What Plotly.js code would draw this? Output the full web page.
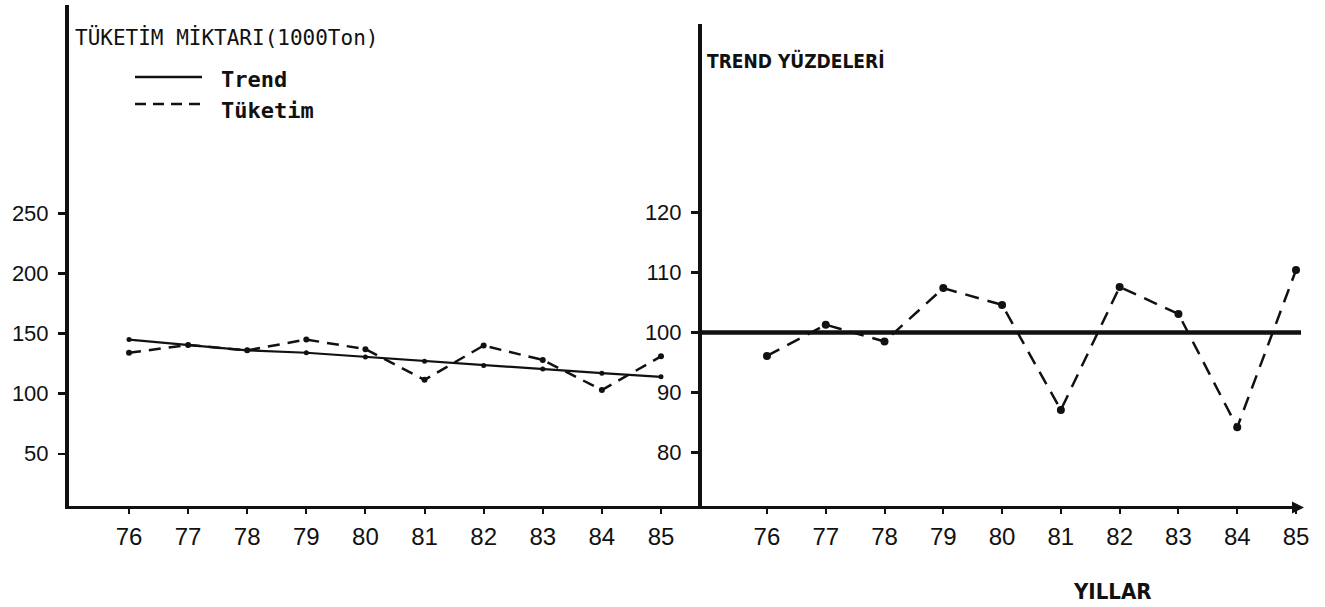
<!DOCTYPE html>
<html>
<head>
<meta charset="utf-8">
<script src="https://cdn.plot.ly/plotly-3.0.1.min.js"></script>
<style>
  html, body { margin: 0; padding: 0; background: #ffffff; }
  #chart { width: 1325px; height: 607px; }
</style>
</head>
<body>
<div id="chart"></div>
<script>
// ---- data ----
const years = [76, 77, 78, 79, 80, 81, 82, 83, 84, 85];
const yearLabels = ['76', '77', '78', '79', '80', '81', '82', '83', '84', '85'];
// left panel: consumption amount (1000 ton)
const trendAmount = [145, 140.5, 136, 134, 130.5, 127, 123.5, 120.5, 117, 114];
const consumption = [134, 140.5, 136, 145, 137, 111.5, 140, 128, 103, 131];
// right panel: trend percentages
const trendPercent = [96.1, 101.3, 98.5, 107.4, 104.6, 87.1, 107.6, 103.1, 84.2, 110.4];
const trendBase = 100;
const leftTicks = [50, 100, 150, 200, 250];
const rightTicks = [80, 90, 100, 110, 120];
const leftTitle = 'TÜKETİM MİKTARI(1000Ton)';
const rightTitle = 'TREND YÜZDELERİ';
const legendNames = ['Trend', 'Tüketim'];
const xTitle = 'YILLAR';

// ---- layout helpers ----
const W = 1325, H = 607;
const M = {l: 69, r: 24, t: 5, b: 101};
const PW = W - M.l - M.r, PH = H - M.t - M.b;
const px = x => (x - M.l) / PW;
const py = y => (H - M.b - y) / PH;
const split = px(702);

const mono = 'DejaVu Sans Mono, monospace';
const narrow = 'Liberation Sans Narrow, DejaVu Sans Condensed, Arial Narrow, sans-serif';
const tickFont = 'Liberation Sans, Arial, sans-serif';

const traces = [
  {x: years, y: trendAmount, xaxis: 'x', yaxis: 'y', mode: 'lines+markers', name: legendNames[0],
   line: {color: '#111', width: 2.2}, marker: {color: '#111', size: 5}, showlegend: false},
  {x: years, y: consumption, xaxis: 'x', yaxis: 'y', mode: 'lines+markers', name: legendNames[1],
   line: {color: '#111', width: 2.5, dash: '12px,8px'}, marker: {color: '#111', size: 6}, showlegend: false},
  {x: years, y: trendPercent, xaxis: 'x2', yaxis: 'y2', mode: 'lines+markers', name: 'Trend yüzdesi',
   line: {color: '#111', width: 2.5, dash: '14px,9px'}, marker: {color: '#111', size: 8}, showlegend: false}
];

const xCommon = {
  tickmode: 'array', tickvals: years, ticktext: yearLabels,
  showline: true, linecolor: '#111', linewidth: 3,
  ticks: 'outside', ticklen: 5, tickwidth: 2, tickcolor: '#111',
  ticklabelstandoff: 2,
  tickfont: {family: tickFont, size: 24, color: '#111'},
  showgrid: false, zeroline: false, fixedrange: true
};
const yCommon = {
  tickmode: 'array',
  showline: true, linecolor: '#111', linewidth: 4,
  ticks: 'outside', ticklen: 7, tickwidth: 2.5, tickcolor: '#111',
  ticklabelstandoff: 5,
  tickfont: {family: tickFont, size: 22, color: '#111'},
  showgrid: false, zeroline: false, fixedrange: true
};

const layout = {
  width: W, height: H,
  margin: M,
  paper_bgcolor: '#ffffff', plot_bgcolor: 'rgba(0,0,0,0)',
  showlegend: false,
  xaxis: Object.assign({}, xCommon, {domain: [0, split], range: [74.985, 85.694], anchor: 'y'}),
  xaxis2: Object.assign({}, xCommon, {domain: [split, 1], range: [74.895, 85.085], anchor: 'y2'}),
  yaxis: Object.assign({}, yCommon, {domain: [0, 1], range: [6.57, 423.2], tickvals: leftTicks,
    ticktext: leftTicks.map(String), anchor: 'x'}),
  yaxis2: Object.assign({}, yCommon, {domain: [0, py(24)], range: [71.1, 151.4], tickvals: rightTicks,
    ticktext: rightTicks.map(String), anchor: 'x2'}),
  shapes: [
    // trend baseline (100 %) across the right panel
    {type: 'line', xref: 'x2 domain', yref: 'y2', x0: 0, x1: 1, y0: trendBase, y1: trendBase,
     line: {color: '#111', width: 4.5}},
    // legend samples
    {type: 'line', xref: 'paper', yref: 'paper', x0: px(135), x1: px(202), y0: py(77), y1: py(77),
     line: {color: '#111', width: 2.5}},
    {type: 'line', xref: 'paper', yref: 'paper', x0: px(135), x1: px(201), y0: py(104), y1: py(104),
     line: {color: '#111', width: 2.5, dash: '11px,7px'}}
  ],
  annotations: [
    {xref: 'paper', yref: 'paper', x: px(73), y: py(38), xanchor: 'left', yanchor: 'middle',
     text: leftTitle, showarrow: false, font: {family: mono, size: 21, color: '#111'}},
    {xref: 'paper', yref: 'paper', x: px(705), y: py(61), xanchor: 'left', yanchor: 'middle',
     text: rightTitle, showarrow: false, font: {family: narrow, size: 19, color: '#111', weight: 'bold'}},
    {xref: 'paper', yref: 'paper', x: px(219), y: py(80), xanchor: 'left', yanchor: 'middle',
     text: legendNames[0], showarrow: false, font: {family: mono, size: 22, color: '#111', weight: 'bold'}},
    {xref: 'paper', yref: 'paper', x: px(219), y: py(110), xanchor: 'left', yanchor: 'middle',
     text: legendNames[1], showarrow: false, font: {family: mono, size: 22, color: '#111', weight: 'bold'}},
    {xref: 'paper', yref: 'paper', x: px(1112), y: py(591), xanchor: 'center', yanchor: 'middle',
     text: xTitle, showarrow: false, font: {family: narrow, size: 22, color: '#111', weight: 'bold'}},
    // arrow head at the end of the time axis
    {xref: 'paper', yref: 'paper', x: px(1304), y: py(507.5), text: '', showarrow: true,
     ax: -14, ay: 0, arrowhead: 2, arrowsize: 0.8, arrowwidth: 3, arrowcolor: '#111'}
  ]
};

Plotly.newPlot('chart', traces, layout, {staticPlot: true, displayModeBar: false});
</script>
</body>
</html>
